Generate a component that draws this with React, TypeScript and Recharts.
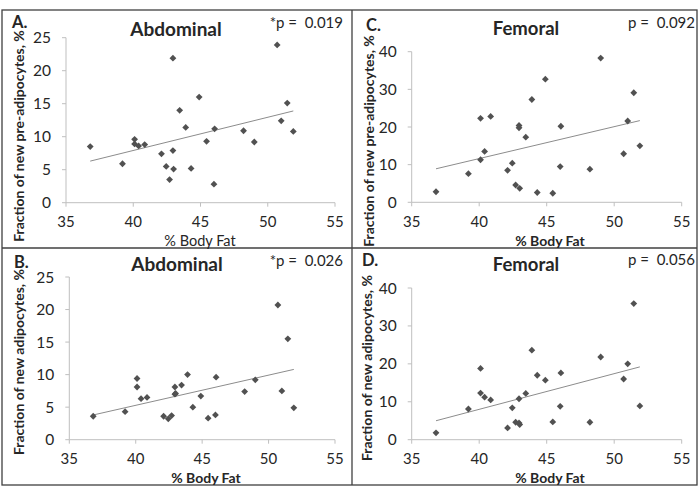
import { ReferenceLine, Scatter, ScatterChart, XAxis, YAxis } from 'recharts'

// % body fat of each subject (same subjects in all four panels)
const bodyFat = [
  36.8, 39.2, 40.1, 40.1, 40.4, 40.85, 42.1, 42.45, 42.7, 42.95, 42.95, 43.0, 43.45,
  43.9, 44.3, 44.9, 45.45, 46.0, 46.05, 48.2, 49.0, 50.7, 51.0, 51.45, 51.9,
]
const abdominalPre = [
  8.5, 5.9, 9.6, 8.9, 8.6, 8.8, 7.4, 5.5, 3.5, 21.9, 7.9, 5.1, 14.0, 11.4, 5.2, 16.0,
  9.3, 2.8, 11.2, 10.9, 9.2, 23.9, 12.4, 15.1, 10.8,
]
const abdominalNew = [
  3.6, 4.3, 9.4, 8.1, 6.3, 6.5, 3.6, 3.2, 3.7, 8.1, 7.0, 7.1, 8.4, 10.0, 5.0, 6.7, 3.3,
  3.8, 9.6, 7.4, 9.2, 20.7, 7.5, 15.5, 4.9,
]
const femoralPre = [
  2.8, 7.6, 22.3, 11.3, 13.5, 22.8, 8.5, 10.4, 4.6, 20.4, 19.8, 3.7, 17.3, 27.3, 2.6,
  32.7, 2.4, 9.5, 20.2, 8.8, 38.3, 12.9, 21.6, 29.1, 15.0,
]
const femoralNew = [
  1.8, 8.1, 12.3, 18.8, 11.2, 10.5, 3.1, 8.4, 4.6, 4.4, 10.8, 4.0, 12.2, 23.6, 17.0,
  15.7, 4.7, 8.8, 17.6, 4.6, 21.8, 16.0, 20.0, 35.9, 8.9,
]

// linear trend line end points
const trendX = [36.8, 51.9]
const abdominalPreTrend = [6.3, 13.9]
const abdominalNewTrend = [3.8, 10.8]
const femoralPreTrend = [8.9, 21.7]
const femoralNewTrend = [5.0, 19.2]

const xTicks = [35, 40, 45, 50, 55]
const abdominalTicks = [0, 5, 10, 15, 20, 25]
const femoralTicks = [0, 10, 20, 30, 40]

const FONT = 'Lato, "Open Sans", sans-serif'
const AXIS = '#bfbfbf'
const TEXT = '#262626'

type Box = { left: number; top: number; width: number; height: number }
type Plot = { left: number; top: number; right: number; bottom: number }

function Diamond(props: any) {
  const { cx, cy } = props
  if (cx == null || cy == null) return <g />
  const r = 3.4
  return (
    <path
      d={`M${cx},${cy - r}L${cx + r},${cy}L${cx},${cy + r}L${cx - r},${cy}Z`}
      fill="#515151"
    />
  )
}

function Panel({
  box,
  plot,
  values,
  yTicks,
  trend,
}: {
  box: Box
  plot: Plot
  values: number[]
  yTicks: number[]
  trend: number[]
}) {
  const data = bodyFat.map((x, i) => ({ x, y: values[i] }))
  return (
    <div style={{ position: 'absolute', left: box.left, top: box.top }}>
      <ScatterChart
        width={box.width}
        height={box.height}
        margin={{
          top: plot.top - box.top,
          right: box.left + box.width - plot.right,
          bottom: 0,
          left: 0,
        }}
      >
        <XAxis
          type="number"
          dataKey="x"
          domain={[35, 55]}
          ticks={xTicks}
          height={box.top + box.height - plot.bottom}
          tick={{ fill: TEXT, fontSize: 15, fontFamily: FONT }}
          tickSize={4}
          tickMargin={10}
          axisLine={{ stroke: AXIS }}
          tickLine={{ stroke: AXIS }}
        />
        <YAxis
          type="number"
          dataKey="y"
          domain={[0, yTicks[yTicks.length - 1]]}
          ticks={yTicks}
          width={plot.left - box.left}
          tick={{ fill: TEXT, fontSize: 15.5, fontFamily: FONT }}
          tickSize={4}
          tickMargin={11}
          axisLine={{ stroke: AXIS }}
          tickLine={{ stroke: AXIS }}
        />
        <ReferenceLine
          segment={[
            { x: trendX[0], y: trend[0] },
            { x: trendX[1], y: trend[1] },
          ]}
          stroke="#8c8c8c"
          strokeWidth={1}
        />
        <Scatter data={data} shape={Diamond} isAnimationActive={false} />
      </ScatterChart>
    </div>
  )
}

function Labels() {
  const yLabel = (x: number, y: number, text: string) => (
    <text
      x={x}
      y={y}
      transform={`rotate(-90 ${x} ${y})`}
      textAnchor="middle"
      dominantBaseline="central"
      fontWeight={700}
      fontSize={14}
    >
      {text}
    </text>
  )
  return (
    <svg
      width={699}
      height={497}
      style={{ position: 'absolute', left: 0, top: 0, pointerEvents: 'none' }}
      fontFamily={FONT}
      fill={TEXT}
    >
      <rect x={2} y={10} width={695} height={475} fill="none" stroke="#404040" strokeWidth={1.3} />
      <line x1={352} y1={10} x2={352} y2={485} stroke="#404040" strokeWidth={1.3} />
      <line x1={2} y1={248} x2={697} y2={248} stroke="#404040" strokeWidth={1.3} />

      {/* A */}
      <text x={12} y={28} fontWeight={700} fontSize={16.5}>A.</text>
      <text x={176} y={36} textAnchor="middle" fontWeight={700} fontSize={19}>Abdominal</text>
      <text x={343} y={28} textAnchor="end" fontSize={15} style={{ whiteSpace: 'pre' }}>*p =  0.019</text>
      {yLabel(18, 136, 'Fraction of new pre-adipocytes, %')}
      <text x={200} y={245.5} textAnchor="middle" fontSize={14.5}>% Body Fat</text>

      {/* B */}
      <text x={14} y={268} fontWeight={700} fontSize={16.5}>B.</text>
      <text x={177} y={271} textAnchor="middle" fontWeight={700} fontSize={19}>Abdominal</text>
      <text x={343} y={266} textAnchor="end" fontSize={15} style={{ whiteSpace: 'pre' }}>*p =  0.026</text>
      {yLabel(18, 362, 'Fraction of new adipocytes, %')}
      <text x={206} y={483} textAnchor="middle" fontWeight={700} fontSize={14}>% Body Fat</text>

      {/* C */}
      <text x={366} y={31} fontWeight={700} fontSize={16.5}>C.</text>
      <text x={526} y={35} textAnchor="middle" fontWeight={700} fontSize={18.5}>Femoral</text>
      <text x={695} y={28} textAnchor="end" fontSize={15} style={{ whiteSpace: 'pre' }}>p =  0.092</text>
      {yLabel(368, 141, 'Fraction of new pre-adipocytes, %')}
      <text x={550} y={245.5} textAnchor="middle" fontWeight={700} fontSize={14}>% Body Fat</text>

      {/* D */}
      <text x={362} y={266} fontWeight={700} fontSize={16.5}>D.</text>
      <text x={526} y={271} textAnchor="middle" fontWeight={700} fontSize={18.5}>Femoral</text>
      <text x={695} y={265} textAnchor="end" fontSize={15} style={{ whiteSpace: 'pre' }}>p =  0.056</text>
      {yLabel(366, 368, 'Fraction of new adipocytes, %')}
      <text x={550} y={483} textAnchor="middle" fontWeight={700} fontSize={14}>% Body Fat</text>
    </svg>
  )
}

export default function App() {
  return (
    <div style={{ position: 'absolute', left: 0, top: 0, width: 699, height: 497, background: '#fff' }}>
      <Panel
        box={{ left: 2, top: 10, width: 350, height: 238 }}
        plot={{ left: 66, top: 37.7, right: 335, bottom: 202.7 }}
        values={abdominalPre}
        yTicks={abdominalTicks}
        trend={abdominalPreTrend}
      />
      <Panel
        box={{ left: 2, top: 248, width: 350, height: 237 }}
        plot={{ left: 69.3, top: 277, right: 335, bottom: 439.7 }}
        values={abdominalNew}
        yTicks={abdominalTicks}
        trend={abdominalNewTrend}
      />
      <Panel
        box={{ left: 352, top: 10, width: 345, height: 238 }}
        plot={{ left: 411.7, top: 51.7, right: 681.7, bottom: 202.3 }}
        values={femoralPre}
        yTicks={femoralTicks}
        trend={femoralPreTrend}
      />
      <Panel
        box={{ left: 352, top: 248, width: 345, height: 237 }}
        plot={{ left: 411.7, top: 288, right: 681.7, bottom: 439.7 }}
        values={femoralNew}
        yTicks={femoralTicks}
        trend={femoralNewTrend}
      />
      <Labels />
    </div>
  )
}
